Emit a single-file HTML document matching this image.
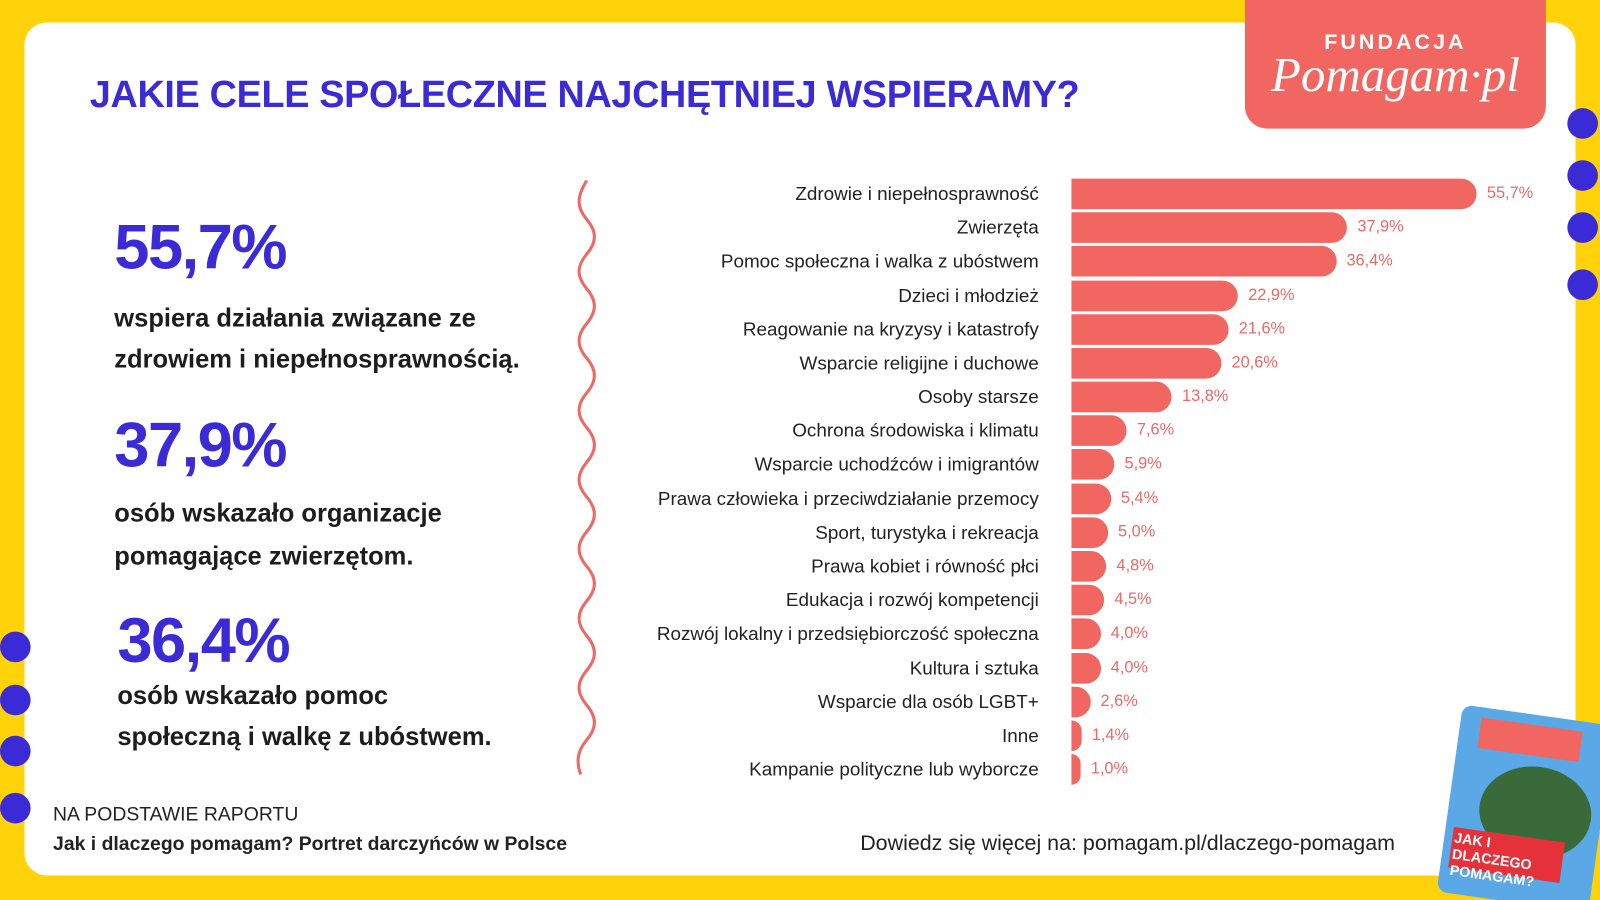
<!DOCTYPE html>
<html><head><meta charset="utf-8"><style>
*{margin:0;padding:0;box-sizing:border-box}
body{width:1600px;height:900px;overflow:hidden;background:#FFD20A;font-family:"Liberation Sans",sans-serif}
#s{position:absolute;left:0;top:0;width:1568px;height:882px;transform:scale(1.020408);transform-origin:0 0;background:#FFD20A;overflow:hidden}
.card{position:absolute;left:24px;top:22px;width:1520px;height:836px;background:#fff;border-radius:22px}
.dot{position:absolute;width:30px;height:30px;border-radius:50%;background:#3b2bd6}
.logo{position:absolute;left:1220px;top:-10px;width:295px;height:136px;background:#F26661;border-radius:0 0 22px 22px;color:#fff;text-align:center}
h1{position:absolute;left:88px;top:72px;font-size:37px;color:#3b2bd6;font-weight:bold;letter-spacing:-0.3px}
.big{position:absolute;font-size:62px;font-weight:bold;color:#3b2bd6;letter-spacing:-1.5px}
.txt{position:absolute;font-size:25px;font-weight:bold;color:#1d1d1d;line-height:40px}
.lab{position:absolute;right:550px;font-size:18.5px;color:#222;text-align:right;white-space:nowrap}
.bar{position:absolute;left:1050px;height:30px;background:#F26661;border-radius:0 15px 15px 0}
.val{position:absolute;font-size:16px;color:#E86A68}
</style></head><body><div id="s">
<div class="card"></div>
<div class="dot" style="left:1536px;top:106px"></div>
<div class="dot" style="left:1536px;top:157px"></div>
<div class="dot" style="left:1536px;top:208px"></div>
<div class="dot" style="left:1536px;top:264px"></div>
<div class="dot" style="left:0px;top:619px"></div>
<div class="dot" style="left:0px;top:671px"></div>
<div class="dot" style="left:0px;top:721px"></div>
<div class="dot" style="left:0px;top:777px"></div>
<div class="logo"><div style="margin-top:40px;font-size:21px;font-weight:bold;letter-spacing:3px">FUNDACJA</div><div style="font-family:'Liberation Serif',serif;font-style:italic;font-size:48px;margin-top:-8px">Pomagam·pl</div></div>
<h1>JAKIE CELE SPOŁECZNE NAJCHĘTNIEJ WSPIERAMY?</h1>
<div class="big" style="left:112px;top:207px">55,7%</div>
<div class="txt" style="left:112px;top:292px">wspiera działania związane ze<br>zdrowiem i niepełnosprawnością.</div>
<div class="big" style="left:112px;top:401px">37,9%</div>
<div class="txt" style="left:112px;top:482px;line-height:42px">osób wskazało organizacje<br>pomagające zwierzętom.</div>
<div class="big" style="left:115px;top:593px">36,4%</div>
<div class="txt" style="left:115px;top:662px">osób wskazało pomoc<br>społeczną i walkę z ubóstwem.</div>
<svg style="position:absolute;left:555px;top:175px" width="40" height="590"><path d="M20 2 C10 18,10 28,20 40 C30 52,30 62,20 74 C10 86,10 96,20 108 C30 120,30 130,20 142 C10 154,10 164,20 176 C30 188,30 198,20 210 C10 222,10 232,20 244 C30 256,30 266,20 278 C10 290,10 300,20 312 C30 324,30 334,20 346 C10 358,10 368,20 380 C30 392,30 402,20 414 C10 426,10 436,20 448 C30 460,30 470,20 482 C10 494,10 504,20 516 C30 528,30 538,20 550 C10 562,10 572,14 584" fill="none" stroke="#ED6965" stroke-width="3"/></svg>
<div id="chart"></div>
<div style="position:absolute;left:52px;top:788px;font-size:19px;color:#222">NA PODSTAWIE RAPORTU</div>
<div style="position:absolute;left:52px;top:817px;font-size:19px;font-weight:bold;color:#222">Jak i dlaczego pomagam? Portret darczyńców w Polsce</div>
<div style="position:absolute;left:843px;top:815px;font-size:21px;color:#222">Dowiedz się więcej na: pomagam.pl/dlaczego-pomagam</div>
<div style="position:absolute;left:1420px;top:700px;width:150px;height:185px;background:#5AA8E6;transform:rotate(8deg);border-radius:10px;overflow:hidden">
<div style="position:absolute;left:20px;top:10px;width:100px;height:30px;background:#F26661"></div>
<div style="position:absolute;left:30px;top:50px;width:110px;height:90px;background:#3a6a3a;border-radius:50%"></div>
<div style="position:absolute;left:8px;top:120px;width:110px;height:40px;background:#E5323A;color:#fff;font-size:14px;font-weight:bold;padding:2px">JAK I DLACZEGO POMAGAM?</div>
</div>
<script>
var d=[["Zdrowie i niepełnosprawność",55.7],["Zwierzęta",37.9],["Pomoc społeczna i walka z ubóstwem",36.4],["Dzieci i młodzież",22.9],["Reagowanie na kryzysy i katastrofy",21.6],["Wsparcie religijne i duchowe",20.6],["Osoby starsze",13.8],["Ochrona środowiska i klimatu",7.6],["Wsparcie uchodźców i imigrantów",5.9],["Prawa człowieka i przeciwdziałanie przemocy",5.4],["Sport, turystyka i rekreacja",5.0],["Prawa kobiet i równość płci",4.8],["Edukacja i rozwój kompetencji",4.5],["Rozwój lokalny i przedsiębiorczość społeczna",4.0],["Kultura i sztuka",4.0],["Wsparcie dla osób LGBT+",2.6],["Inne",1.4],["Kampanie polityczne lub wyborcze",1.0]];
var h="";d.forEach(function(r,i){var c=190+i*33.18;var w=Math.max(r[1]*7.13,9);
h+='<div class="lab" style="top:'+(c-11)+'px">'+r[0]+'</div><div class="bar" style="top:'+(c-15)+'px;width:'+w+'px"></div><div class="val" style="left:'+(1050+w+10)+'px;top:'+(c-9)+'px">'+r[1].toFixed(1).replace(".",",")+'%</div>';});
document.getElementById("chart").innerHTML=h;
</script>
</div></body></html>
